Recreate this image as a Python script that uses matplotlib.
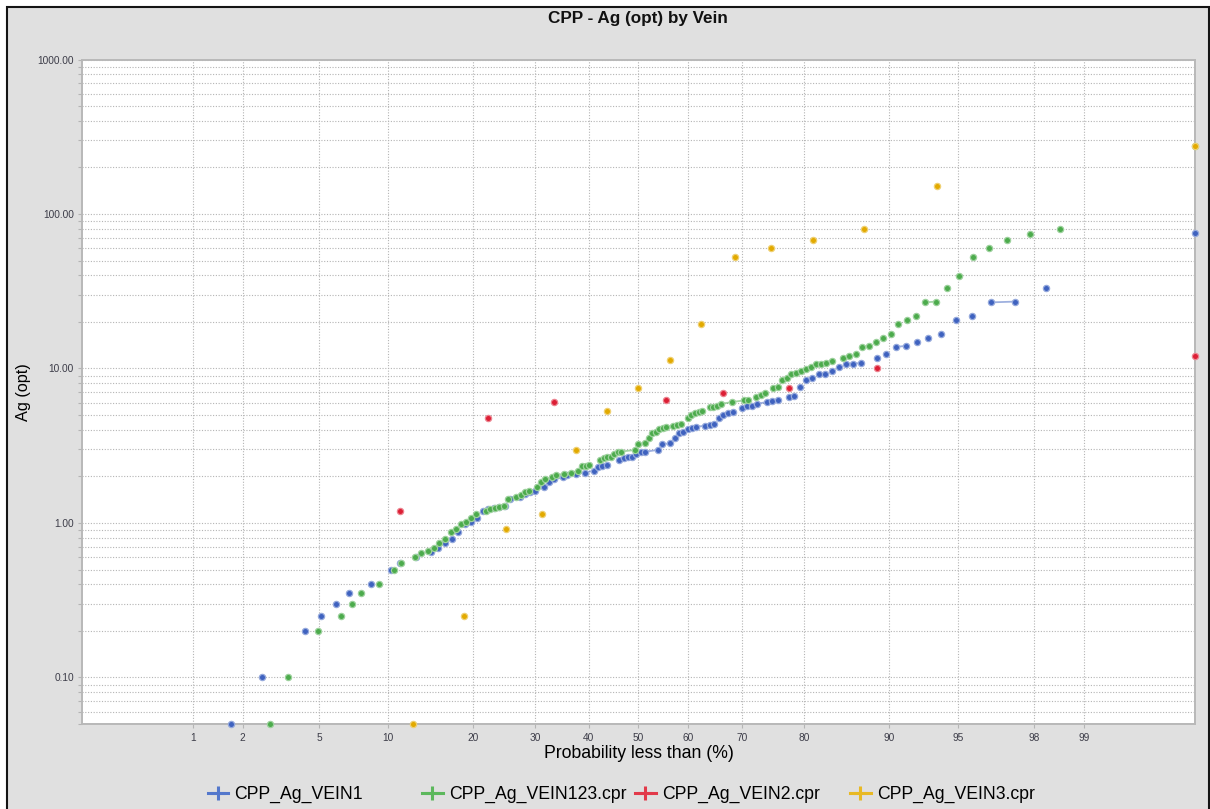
import math
import numpy as np
import matplotlib
matplotlib.use("Agg")
import matplotlib.pyplot as plt
from matplotlib.colors import to_rgb
from matplotlib.lines import Line2D
from matplotlib.patches import Rectangle
from matplotlib.ticker import (FixedLocator, FixedFormatter, LogLocator,
                               NullFormatter, NullLocator)

plt.rcParams["font.family"] = ["Liberation Sans", "DejaVu Sans"]

# Ag (opt) assays per domain, sorted ascending; repeated values are tied samples
vein1 = [
    0.05, 0.05, 0.10, 0.20, 0.20, 0.25, 0.30, 0.35, 0.40, 0.40,
    0.50, 0.50, 0.55, 0.60, 0.60, 0.65, 0.65, 0.69, 0.74, 0.79,
    0.88, 0.98, 1.01, 1.08, 1.19, 1.23, 1.25, 1.26, 1.29, 1.44,
    1.48, 1.48, 1.53, 1.59, 1.62, 1.72, 1.72, 1.85, 1.92, 1.97,
    1.97, 2.04, 2.08, 2.08, 2.12, 2.12, 2.18, 2.18, 2.32, 2.34,
    2.36, 2.55, 2.55, 2.55, 2.62, 2.67, 2.69, 2.79, 2.86, 2.89,
    2.97, 2.97, 2.97, 3.23, 3.28, 3.28, 3.57, 3.81, 3.91, 4.06,
    4.14, 4.20, 4.26, 4.26, 4.32, 4.36, 4.80, 5.00, 5.14, 5.21,
    5.59, 5.59, 5.68, 5.74, 5.91, 6.07, 6.07, 6.20, 6.25, 6.51,
    6.51, 6.67, 7.55, 8.45, 8.68, 9.17, 9.25, 9.67, 10.2, 10.7,
    10.75, 10.85, 11.7, 11.7, 12.4, 13.8, 14.0, 14.8, 15.7, 16.8,
    20.5, 21.8, 26.8, 27.1, 33.3, 75.0, 75.0,
]
vein123 = [
    0.05, 0.05, 0.05, 0.05, 0.10, 0.20, 0.20, 0.25, 0.25, 0.30,
    0.35, 0.40, 0.40, 0.50, 0.50, 0.55, 0.60, 0.60, 0.64, 0.66,
    0.69, 0.74, 0.79, 0.88, 0.92, 0.99, 1.01, 1.08, 1.14, 1.19,
    1.19, 1.23, 1.25, 1.26, 1.29, 1.44, 1.48, 1.48, 1.51, 1.58,
    1.61, 1.72, 1.72, 1.85, 1.92, 1.97, 1.97, 2.03, 2.09, 2.09,
    2.12, 2.12, 2.18, 2.18, 2.33, 2.34, 2.36, 2.57, 2.57, 2.57,
    2.63, 2.66, 2.69, 2.78, 2.86, 2.90, 2.97, 2.97, 2.97, 2.97,
    3.23, 3.29, 3.29, 3.57, 3.81, 3.90, 4.06, 4.13, 4.19, 4.24,
    4.24, 4.31, 4.38, 4.80, 4.80, 5.00, 5.12, 5.22, 5.28, 5.60,
    5.60, 5.65, 5.74, 5.90, 6.07, 6.07, 6.07, 6.22, 6.22, 6.22,
    6.26, 6.51, 6.51, 6.69, 6.97, 7.46, 7.46, 7.55, 8.42, 8.65,
    9.17, 9.31, 9.67, 9.96, 10.26, 10.7, 10.75, 10.85, 11.2, 11.7,
    11.7, 12.0, 12.4, 13.8, 14.0, 14.8, 15.7, 16.8, 19.3, 20.6,
    21.8, 26.8, 27.1, 33.3, 39.7, 52.9, 60.0, 67.9, 74.6, 80.0,
    275.0, 275.0,
]
vein2 = [1.2, 4.8, 6.04, 6.25, 6.25, 6.97, 7.48, 10.0, 12.05]
vein3 = [0.05, 0.05, 0.25, 0.915, 1.14, 2.98, 5.28, 7.48, 11.3, 19.3,
         52.9, 60.0, 67.9, 80.0, 152.0, 275.0]

names = ["CPP_Ag_VEIN1", "CPP_Ag_VEIN123.cpr", "CPP_Ag_VEIN2.cpr",
         "CPP_Ag_VEIN3.cpr"]
colors = ["#3f62bf", "#4cab4c", "#dc1f35", "#e2aa00"]
legend_colors = ["#5478cc", "#5cb85c", "#e23a4a", "#e8b924"]

prob_ticks = [1, 2, 5, 10, 20, 30, 40, 50, 60, 70, 80, 90, 95, 98, 99]
grade_ticks = [0.1, 1, 10, 100, 1000]
grade_labels = ["0.10", "1.00", "10.00", "100.00", "1000.00"]

XMIN, XMAX = 0.154, 99.846

# normal-probability axis (with slightly compressed tails)
TAIL = 0.00535
_z = np.linspace(-6.0, 6.0, 6001)
_cdf = 0.5 * (1.0 + np.array([math.erf(v / math.sqrt(2.0)) for v in _z]))
_g = _z - TAIL * _z ** 3


def prob_forward(p):
    q = np.clip(np.asarray(p, dtype=float) / 100.0, _cdf[0], _cdf[-1])
    return np.interp(q, _cdf, _g)


def prob_inverse(g):
    return 100.0 * np.interp(np.asarray(g, dtype=float), _g, _cdf)


def ecdf(values):
    v = np.sort(np.asarray(values, dtype=float))
    u = np.unique(v)
    return np.searchsorted(v, u, side="right") / v.size * 100.0, u


def lighten(c, f=0.45):
    r, g, b = to_rgb(c)
    return (r + (1 - r) * f, g + (1 - g) * f, b + (1 - b) * f)


W, H = 1210, 809
fig = plt.figure(figsize=(W / 100, H / 100), dpi=100)
fig.patch.set_facecolor("white")
fig.patches.append(Rectangle((7 / W, -0.05), (1208.5 - 7) / W, 1.05 - 7 / H,
                             transform=fig.transFigure, facecolor="#e0e0e0",
                             edgecolor="#141414", linewidth=1.5, zorder=-5))

ax = fig.add_axes([82.3 / W, (H - 724) / H, (1194.7 - 82.3) / W, 664.5 / H])
ax.set_facecolor("white")
ax.set_xscale("function", functions=(prob_forward, prob_inverse))
ax.set_yscale("log")
ax.set_xlim(XMIN, XMAX)
ax.set_ylim(0.05, 1000)

ax.xaxis.set_major_locator(FixedLocator(prob_ticks))
ax.xaxis.set_major_formatter(FixedFormatter([str(t) for t in prob_ticks]))
ax.xaxis.set_minor_locator(NullLocator())
ax.yaxis.set_major_locator(FixedLocator(grade_ticks))
ax.yaxis.set_major_formatter(FixedFormatter(grade_labels))
ax.yaxis.set_minor_locator(LogLocator(base=10, subs=range(2, 10)))
ax.yaxis.set_minor_formatter(NullFormatter())

grid_kw = dict(color="#b4b4b4", linewidth=0.8, linestyle=(0, (1, 1.5)))
ax.grid(True, axis="y", which="both", **grid_kw)
ax.grid(True, axis="x", which="major", **grid_kw)
ax.set_axisbelow(True)

ax.tick_params(axis="both", which="both", direction="out", color="#b4b4b4",
               labelcolor="#3c3c48", labelsize=7.3, width=0.8)
ax.tick_params(axis="y", which="both", length=3, pad=3)
ax.tick_params(axis="x", which="major", length=3, pad=3.5)
for sp in ax.spines.values():
    sp.set_color("#b8b8b8")
    sp.set_linewidth(1.4)

for i, (vals, col) in enumerate(zip([vein1, vein123, vein2, vein3], colors)):
    pct, val = ecdf(vals)
    pct = np.minimum(pct, XMAX)
    # neighbouring samples of almost the same grade are joined
    for j in np.flatnonzero(val[1:] / val[:-1] < 1.03):
        ax.plot(pct[j:j + 2], val[j:j + 2], color=col, linewidth=1.3,
                alpha=0.5, zorder=3 + i)
    ax.plot(pct, val, linestyle="none", marker="o", markersize=4.5,
            markerfacecolor=col, markeredgecolor=lighten(col),
            markeredgewidth=0.9, zorder=3.5 + i, clip_on=False)

ax.set_xlabel("Probability less than (%)", fontsize=12.7, color="black")
ax.xaxis.set_label_coords(0.5, -0.031)
ax.set_ylabel("Ag (opt)", fontsize=11.7, color="black")
ax.yaxis.label.set_va("center")
ax.yaxis.set_label_coords(-0.0529, 0.5)

fig.text(638 / W, 1 - 18.5 / H, "CPP - Ag (opt) by Vein", ha="center",
         va="center", fontsize=12.3, fontweight="bold", color="#111111")

# one legend per entry so the columns keep an even pitch
for x0, name, col in zip([207.7, 422.0, 635.0, 850.0], names, legend_colors):
    h = Line2D([], [], color=col, linewidth=2.2, marker="+", markersize=10,
               markeredgewidth=2.2)
    fig.legend(handles=[h], labels=[name], loc="center left",
               bbox_to_anchor=(x0 / W, 1 - 794.5 / H), frameon=False,
               borderpad=0, borderaxespad=0, handlelength=1.17,
               handletextpad=0.34, fontsize=12.7)

fig.savefig("out.png", dpi=100, facecolor=fig.get_facecolor())
